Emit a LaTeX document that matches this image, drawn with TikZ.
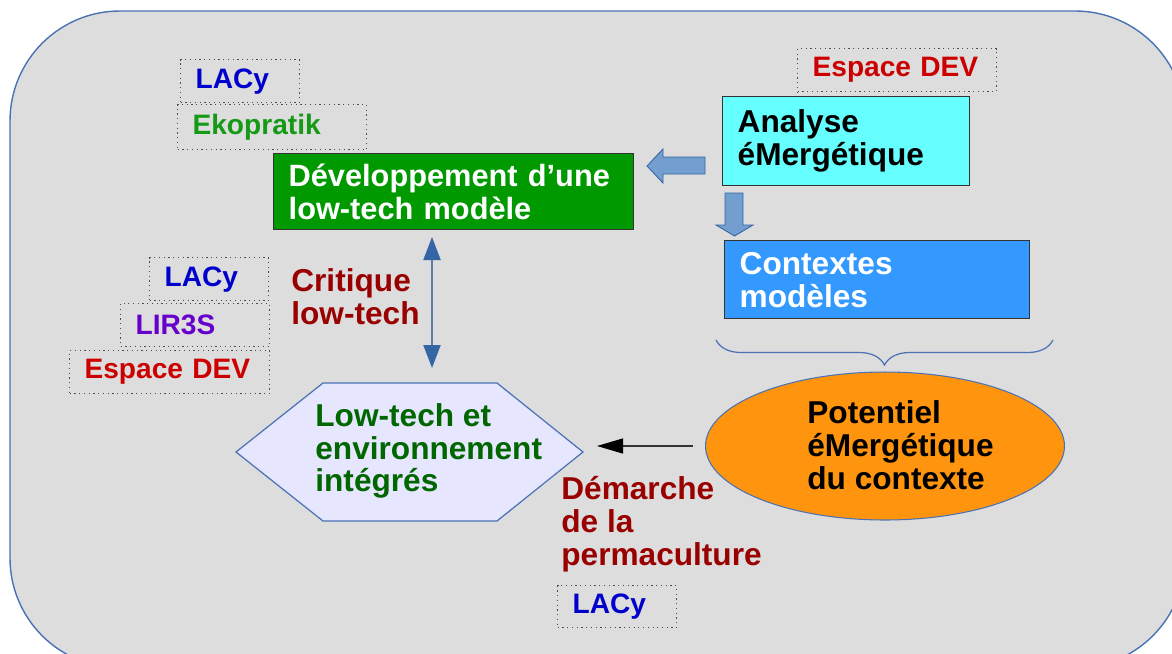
\documentclass[tikz,border=0pt]{standalone}
\usepackage{fontspec}
\setmainfont{Liberation Sans}
\usetikzlibrary{arrows.meta,shapes.geometric,decorations.pathreplacing}
\definecolor{fond}{HTML}{DDDDDD}
\definecolor{cadre}{HTML}{4A72B4}
\definecolor{vertbox}{HTML}{009900}
\definecolor{cyanbox}{HTML}{66FFFF}
\definecolor{bleubox}{HTML}{3399FF}
\definecolor{orange}{HTML}{FF950E}
\definecolor{lavande}{HTML}{E6E6FF}
\definecolor{flechefill}{HTML}{729FCF}
\definecolor{flechedraw}{HTML}{3465A4}
\definecolor{bleutxt}{HTML}{0000CC}
\definecolor{verttxt}{HTML}{169A16}
\definecolor{rougetxt}{HTML}{CC0000}
\definecolor{violettxt}{HTML}{6600CC}
\definecolor{bordeaux}{HTML}{990000}
\definecolor{vertfonce}{HTML}{006600}
\tikzset{
  tag/.style={draw=black!70, dotted, line width=0.7pt, anchor=north west, align=left,
    inner xsep=0.3cm, inner ysep=0pt, minimum height=0.86cm,
    font=\fontsize{16}{19}\selectfont\bfseries},
  bloc/.style={draw=black!80, line width=0.8pt, anchor=north west, align=left,
    inner xsep=0.3cm, inner ysep=0pt, font=\fontsize{18}{18.7}\selectfont\bfseries},
  libre/.style={anchor=west, align=left, inner sep=0pt, font=\fontsize{18}{18.7}\selectfont\bfseries},
  blockarrow/.style={fill=flechefill, draw=flechedraw, line width=0.5pt},
  brace/.style={decorate, decoration={brace, amplitude=0.5cm}, draw=cadre, line width=0.7pt},
}
\begin{document}
\begin{tikzpicture}[x=0.02cm,y=-0.02cm]
\useasboundingbox (0,0) rectangle (1172,653);
\draw[fill=fond, draw=cadre, line width=0.8pt, rounded corners=2.2cm] (10,11) rectangle (1185,668);

\node[tag, text width=1.78cm, text=bleutxt] (lacya) at (180,59) {LACy};
\node[tag, text width=3.18cm, minimum height=0.9cm, text=verttxt] (eko) at (177,104) {Ekopratik};
\node[tag, text width=3.38cm, text=rougetxt] (espa) at (797,48) {Espace DEV};
\node[tag, text width=1.78cm, text=bleutxt] (lacyb) at (149,257) {LACy};
\node[tag, text width=2.38cm, text=violettxt] (lir) at (120,303) {LIR3S};
\node[tag, text width=3.4cm, text=rougetxt] (espb) at (69,350) {Espace DEV};
\node[tag, text width=1.78cm, minimum height=0.84cm, text=bleutxt] (lacyc) at (557,585) {LACy};

\node[bloc, fill=vertbox, text=white, text width=6.6cm, minimum height=1.52cm,
  font=\fontsize{17.5}{18.5}\selectfont\bfseries] (dev) at (273,153) {Développement d’une\\low-tech modèle};
\node[bloc, fill=cyanbox, text width=4.34cm, minimum height=1.78cm] (ana) at (722,96) {Analyse\\éMergétique};
\node[bloc, fill=bleubox, text=white, text width=5.5cm, minimum height=1.56cm] (ctx) at (724,240) {Contextes\\modèles};

\node[draw=cadre, fill=orange, ellipse, line width=0.6pt, minimum width=7.18cm, minimum height=2.96cm] (pot) at (885,446) {};
\node[libre] (pottxt) at (807,445) {Potentiel\\éMergétique\\du contexte};

\draw[fill=lavande, draw=cadre, line width=0.7pt] (236,452) -- (323,383) -- (497,383) -- (583,452) -- (497,521) -- (323,521) -- cycle;
\node[libre, text=vertfonce] (lowtech) at (315,451) {Low-tech et\\environnement\\intégrés};

\node[libre, text=bordeaux] (crit) at (291,297) {Critique\\low-tech};
\node[libre, text=bordeaux] (perma) at (561,524) {Démarche\\de la\\permaculture};

\draw[blockarrow] (705,157) -- (663,157) -- (663,149) -- (647,166) -- (663,183) -- (663,174) -- (705,174) -- cycle;
\draw[blockarrow] (725,193) -- (743,193) -- (743,225) -- (753,225) -- (734.5,236) -- (716,225) -- (725,225) -- cycle;

\draw[brace] (1053,340) -- (716,340);

\coordinate (hautcrit) at (432,237);
\coordinate (bascrit) at (432,368);
\draw[draw=flechefill!80!black, line width=1.2pt, {Triangle[length=0.46cm,width=0.34cm,color=flechedraw]}-{Triangle[length=0.46cm,width=0.34cm,color=flechedraw]}] (hautcrit) -- (bascrit);

\coordinate (pointe) at (597,446);
\draw[black!80, line width=0.7pt, -{Triangle[length=0.52cm,width=0.3cm,color=black]}, shorten <=12*0.02cm] (pot.west) -- (pointe);
\end{tikzpicture}
\end{document}
